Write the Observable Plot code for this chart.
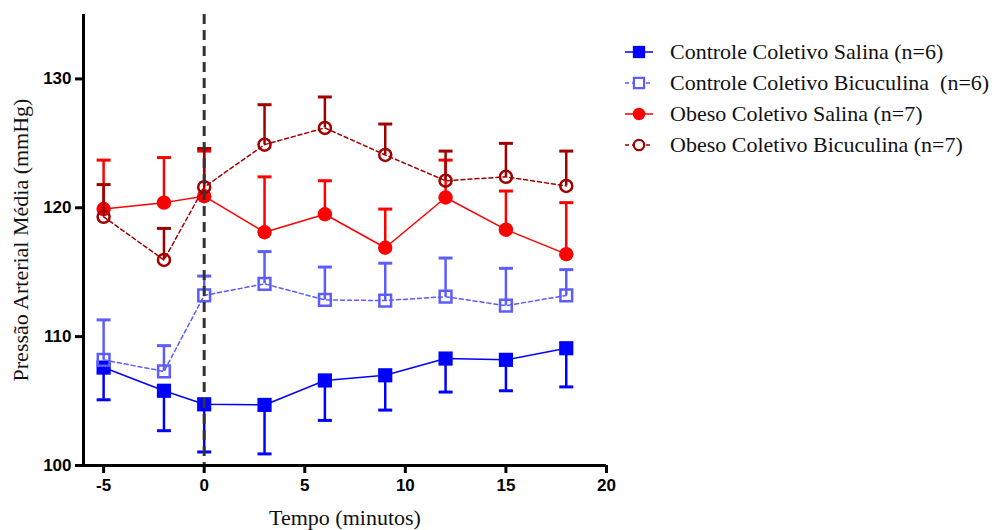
<!DOCTYPE html>
<html><head><meta charset="utf-8">
<script src="https://cdn.jsdelivr.net/npm/d3@7"></script>
<script src="https://cdn.jsdelivr.net/npm/@observablehq/plot@0.6"></script>
<style>
body{margin:0;background:#fff}
#wrap{position:relative;width:996px;height:530px;overflow:hidden}
#legend{position:absolute;left:622px;top:36px;font-family:"Liberation Serif","Times New Roman",serif;font-size:22px;color:#111}
.row{display:flex;align-items:center;height:31px;white-space:pre}
.row svg{margin-right:14px}
g[aria-label="y-axis label"], g[aria-label="x-axis label"],
g[aria-label="y-axis label"] text, g[aria-label="x-axis label"] text{
  font-family:"Liberation Serif","Times New Roman",serif;font-size:22px;font-weight:normal;fill:#111}
</style>
</head><body>
<div id="wrap"><div id="chart"></div><div id="legend"></div></div>
<script>
// ---- data ----
const tempo = [-5, -2, 0, 3, 6, 9, 12, 15, 18];
const seriesNames = [
  "Controle Coletivo Salina (n=6)",
  "Controle Coletivo Bicuculina  (n=6)",
  "Obeso Coletivo Salina (n=7)",
  "Obeso Coletivo Bicuculina (n=7)"
];
const controleSalina     = [107.6, 105.8, 104.75, 104.7, 106.6, 107.0, 108.3, 108.2, 109.1];
const controleSalinaSEM  = [2.5, 3.1, 3.7, 3.8, 3.1, 2.7, 2.6, 2.4, 3.0];
const controleBicuculina    = [108.2, 107.3, 113.2, 114.1, 112.85, 112.8, 113.1, 112.4, 113.2];
const controleBicuculinaSEM = [3.1, 2.0, 1.5, 2.5, 2.55, 2.9, 3.0, 2.9, 2.0];
const obesoSalina     = [119.9, 120.4, 120.9, 118.1, 119.5, 116.9, 120.8, 118.3, 116.4];
const obesoSalinaSEM  = [3.8, 3.5, 3.5, 4.3, 2.6, 3.0, 2.9, 3.0, 4.0];
const obesoBicuculina    = [119.3, 115.95, 121.6, 124.9, 126.2, 124.1, 122.1, 122.4, 121.7];
const obesoBicuculinaSEM = [2.5, 2.45, 3.0, 3.1, 2.4, 2.4, 2.3, 2.6, 2.7];
const yTicks = [100, 110, 120, 130];
const xTicks = [-5, 0, 5, 10, 15, 20];

// ---- series styling ----
const series = [
  {name: seriesNames[0], mean: controleSalina, sem: controleSalinaSEM, dir: -1, color: "#0000ff", symbol: "square", r: 8, filled: true, dash: null},
  {name: seriesNames[1], mean: controleBicuculina, sem: controleBicuculinaSEM, dir: 1, color: "#5c5cff", symbol: "square", r: 6.6, filled: false, dash: "4,3"},
  {name: seriesNames[2], mean: obesoSalina, sem: obesoSalinaSEM, dir: 1, color: "#ff0000", symbol: "circle", r: 7.2, filled: true, dash: null},
  {name: seriesNames[3], mean: obesoBicuculina, sem: obesoBicuculinaSEM, dir: 1, color: "#a00000", symbol: "circle", r: 6, filled: false, dash: "4,3"}
];

const capSymbol = {draw(ctx, size) { const w = Math.sqrt(size / Math.PI); ctx.moveTo(-w, 0); ctx.lineTo(w, 0); }};

const marks = [];
for (const s of series) {
  const rows = tempo.map((t, i) => ({serie: s.name, tempo: t, pam: s.mean[i], end: s.mean[i] + s.dir * s.sem[i]}));
  marks.push(Plot.line(rows, {x: "tempo", y: "pam", stroke: s.color, strokeWidth: 1.5, strokeDasharray: s.dash}));
  marks.push(Plot.ruleX(rows, {x: "tempo", y1: "pam", y2: "end", stroke: s.color, strokeWidth: 2.5}));
  marks.push(Plot.dot(rows, {x: "tempo", y: "end", symbol: capSymbol, r: 7, stroke: s.color, strokeWidth: 3}));
  marks.push(Plot.dot(rows, s.filled
    ? {x: "tempo", y: "pam", symbol: s.symbol, r: s.r, fill: s.color, stroke: "none"}
    : {x: "tempo", y: "pam", symbol: s.symbol, r: s.r, fill: "none", stroke: s.color, strokeWidth: 2.5}));
}

const chart = Plot.plot({
  width: 996, height: 530,
  marginLeft: 83, marginRight: 390, marginTop: 14, marginBottom: 65,
  x: {domain: [-6, 20]},
  y: {domain: [100, 135]},
  style: {background: "#fff", color: "#000"},
  marks: [
    Plot.axisY({ticks: yTicks, tickSize: 8, tickPadding: 4, strokeWidth: 3, fontSize: 17, fontWeight: "bold",
      fontFamily: "Liberation Sans, Arial, sans-serif", label: "Pressão Arterial Média (mmHg)",
      labelAnchor: "center", labelArrow: "none", labelOffset: 71}),
    Plot.axisX({ticks: xTicks, tickSize: 8, tickPadding: 5, strokeWidth: 3, fontSize: 17, fontWeight: "bold",
      fontFamily: "Liberation Sans, Arial, sans-serif", tickFormat: d => String(d), label: "Tempo (minutos)",
      labelAnchor: "center", labelArrow: "none", labelOffset: 59}),
    ...marks,
    Plot.ruleX([0], {stroke: "#333", strokeWidth: 3, strokeDasharray: "10,6"}),
    Plot.ruleY([100], {stroke: "#000", strokeWidth: 3}),
    Plot.ruleX([-6], {stroke: "#000", strokeWidth: 3})
  ]
});
document.getElementById("chart").appendChild(chart);

// ---- legend ----
const legend = document.getElementById("legend");
for (const s of series) {
  const row = document.createElement("div");
  row.className = "row";
  const svg = d3.create("svg").attr("width", 34).attr("height", 20);
  svg.append("line").attr("x1", 3).attr("x2", 31).attr("y1", 10).attr("y2", 10)
    .attr("stroke", s.color).attr("stroke-width", 1.5).attr("stroke-dasharray", s.dash);
  const sym = d3.symbol(s.symbol === "square" ? d3.symbolSquare : d3.symbolCircle, s.r * s.r * Math.PI * 0.75)();
  const p = svg.append("path").attr("d", sym).attr("transform", "translate(17,10)");
  if (s.filled) p.attr("fill", s.color); else p.attr("fill", "#fff").attr("stroke", s.color).attr("stroke-width", 2.2);
  row.appendChild(svg.node());
  const span = document.createElement("span");
  span.textContent = s.name;
  row.appendChild(span);
  legend.appendChild(row);
}
</script>
</body></html>
